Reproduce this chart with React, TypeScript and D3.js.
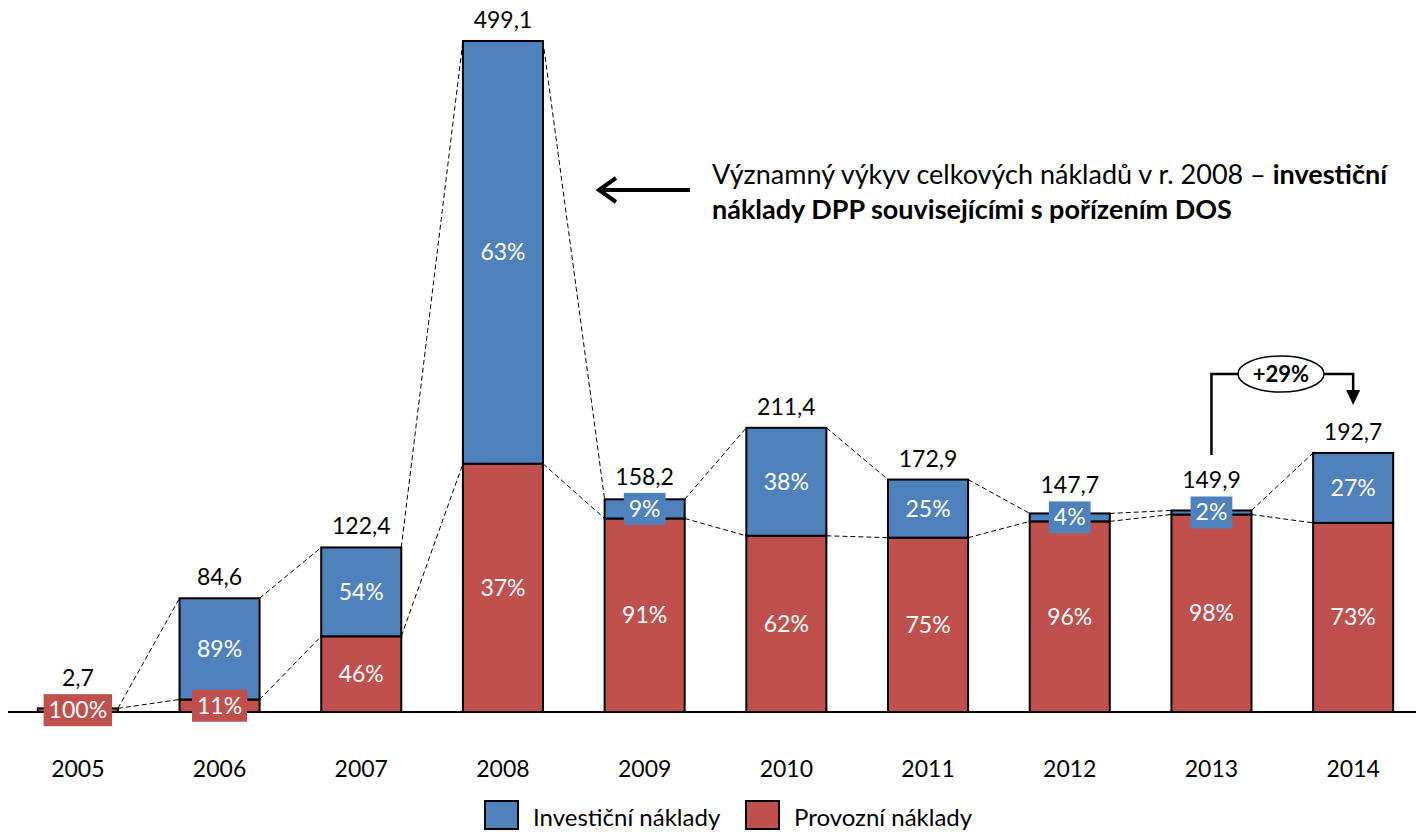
import { useEffect, useRef } from 'react'
import * as d3 from 'd3'

const W = 1416
const H = 832
const FONT = 'Lato, "Open Sans", sans-serif'
const BLUE = '#4F81BD'
const RED = '#C0504D'

const years = ['2005', '2006', '2007', '2008', '2009', '2010', '2011', '2012', '2013', '2014']
const totals = [2.7, 84.6, 122.4, 499.1, 158.2, 211.4, 172.9, 147.7, 149.9, 192.7]
const investPct = [0, 89, 54, 63, 9, 38, 25, 4, 2, 27]
const provozPct = [100, 11, 46, 37, 91, 62, 75, 96, 98, 73]
const legendItems = [
  { label: 'Investiční náklady', color: BLUE },
  { label: 'Provozní náklady', color: RED },
]

const fmt = (v: number) => v.toFixed(1).replace('.', ',')

export default function App() {
  const svgRef = useRef<SVGSVGElement>(null)

  useEffect(() => {
    const el = svgRef.current
    if (!el) return
    const svg = d3.select(el)
    svg.selectAll('*').remove()

    const x = d3.scaleBand<string>().domain(years).range([7, 1424]).paddingInner(0.435).paddingOuter(0.2175)
    const y = d3.scaleLinear().domain([0, 499.1]).range([712, 41])
    const bw = x.bandwidth()

    const rows = years.map((yr, i) => {
      const red = (totals[i] * provozPct[i]) / 100
      return { yr, total: totals[i], red, inv: investPct[i], prov: provozPct[i] }
    })

    // dashed connectors between bar tops
    const conn = svg.append('g').attr('stroke', '#000').attr('stroke-width', 1).attr('stroke-dasharray', '5,3')
    for (let i = 0; i < rows.length - 1; i++) {
      const a = rows[i], b = rows[i + 1]
      const xr = x(a.yr)! + bw
      const xl = x(b.yr)!
      conn.append('line').attr('x1', xr).attr('y1', y(a.total)).attr('x2', xl).attr('y2', y(b.total))
      conn.append('line').attr('x1', xr).attr('y1', y(a.red)).attr('x2', xl).attr('y2', y(b.red))
    }

    // bars
    const bars = svg.append('g')
    rows.forEach((d) => {
      const x0 = x(d.yr)!
      bars.append('rect')
        .attr('x', x0).attr('width', bw)
        .attr('y', y(d.red)).attr('height', y(0) - y(d.red))
        .attr('fill', RED).attr('stroke', '#000').attr('stroke-width', 2)
      if (d.total > d.red) {
        bars.append('rect')
          .attr('x', x0).attr('width', bw)
          .attr('y', y(d.total)).attr('height', y(d.red) - y(d.total))
          .attr('fill', BLUE).attr('stroke', '#000').attr('stroke-width', 2)
      }
    })

    // axis line
    svg.append('line').attr('x1', 8).attr('x2', W).attr('y1', y(0)).attr('y2', y(0))
      .attr('stroke', '#000').attr('stroke-width', 2)

    // labels
    const labels = svg.append('g').attr('font-family', FONT).attr('font-size', 23)
    const pctLabel = (cx: number, cy: number, text: string, fill: string) => {
      const g = labels.append('g')
      const t = g.append('text').attr('x', cx).attr('y', cy + 8).attr('text-anchor', 'middle')
        .attr('fill', '#fff').text(text)
      const bb = (t.node() as SVGTextElement).getBBox()
      g.insert('rect', 'text').attr('x', bb.x - 5).attr('y', cy - 16).attr('width', bb.width + 10).attr('height', 32)
        .attr('fill', fill)
      return cy - 16
    }
    rows.forEach((d) => {
      const cx = x(d.yr)! + bw / 2
      let boxTop = pctLabel(cx, (y(0) + y(d.red)) / 2, `${d.prov}%`, RED)
      if (d.inv > 0) boxTop = pctLabel(cx, (y(d.red) + y(d.total)) / 2, `${d.inv}%`, BLUE)
      const ly = Math.min(y(d.total) - 13, boxTop - 8)
      labels.append('text').attr('x', cx).attr('y', ly).attr('text-anchor', 'middle')
        .attr('fill', '#000').text(fmt(d.total))
      labels.append('text').attr('x', cx).attr('y', 777).attr('text-anchor', 'middle')
        .attr('fill', '#000').text(d.yr)
    })

    // legend
    const leg = svg.append('g').attr('font-family', FONT).attr('font-size', 24)
    const legX = [485, 746]
    legendItems.forEach((it, i) => {
      leg.append('rect').attr('x', legX[i]).attr('y', 801).attr('width', 33).attr('height', 28)
        .attr('fill', it.color).attr('stroke', '#000').attr('stroke-width', 2)
      leg.append('text').attr('x', legX[i] + 48).attr('y', 826).attr('fill', '#000').text(it.label)
    })

    // 2008 annotation
    svg.append('line').attr('x1', 690).attr('y1', 190).attr('x2', 602).attr('y2', 190)
      .attr('stroke', '#000').attr('stroke-width', 4)
    svg.append('path').attr('d', 'M616,178 L599,190 L616,202').attr('fill', 'none')
      .attr('stroke', '#000').attr('stroke-width', 4)
    const ann = svg.append('text').attr('font-family', FONT).attr('font-size', 27).attr('fill', '#000')
    ann.append('tspan').attr('x', 712).attr('y', 184).text('Významný výkyv celkových nákladů v r. 2008 – ')
    ann.append('tspan').attr('font-weight', 'bold').text('investiční')
    ann.append('tspan').attr('x', 712).attr('y', 219).attr('font-weight', 'bold')
      .text('náklady DPP souvisejícími s pořízením DOS')

    // +29% annotation
    const cx13 = x('2013')! + bw / 2
    const cx14 = x('2014')! + bw / 2
    const ly = 374
    svg.append('path')
      .attr('d', `M${cx13},455 L${cx13},${ly} L${cx14},${ly} L${cx14},${392}`)
      .attr('fill', 'none').attr('stroke', '#000').attr('stroke-width', 2.5)
    svg.append('path').attr('d', `M${cx14 - 7},${390} L${cx14 + 7},${390} L${cx14},${405} z`).attr('fill', '#000')
    svg.append('ellipse').attr('cx', 1281).attr('cy', ly).attr('rx', 43).attr('ry', 18)
      .attr('fill', '#fff').attr('stroke', '#000').attr('stroke-width', 1.5)
    svg.append('text').attr('x', 1281).attr('y', ly + 8).attr('text-anchor', 'middle')
      .attr('font-family', FONT).attr('font-size', 22).attr('font-weight', 'bold').text('+29%')
  }, [])

  return (
    <svg ref={svgRef} width={W} height={H}
      style={{ position: 'absolute', left: 0, top: 0, background: '#fff' }} />
  )
}
